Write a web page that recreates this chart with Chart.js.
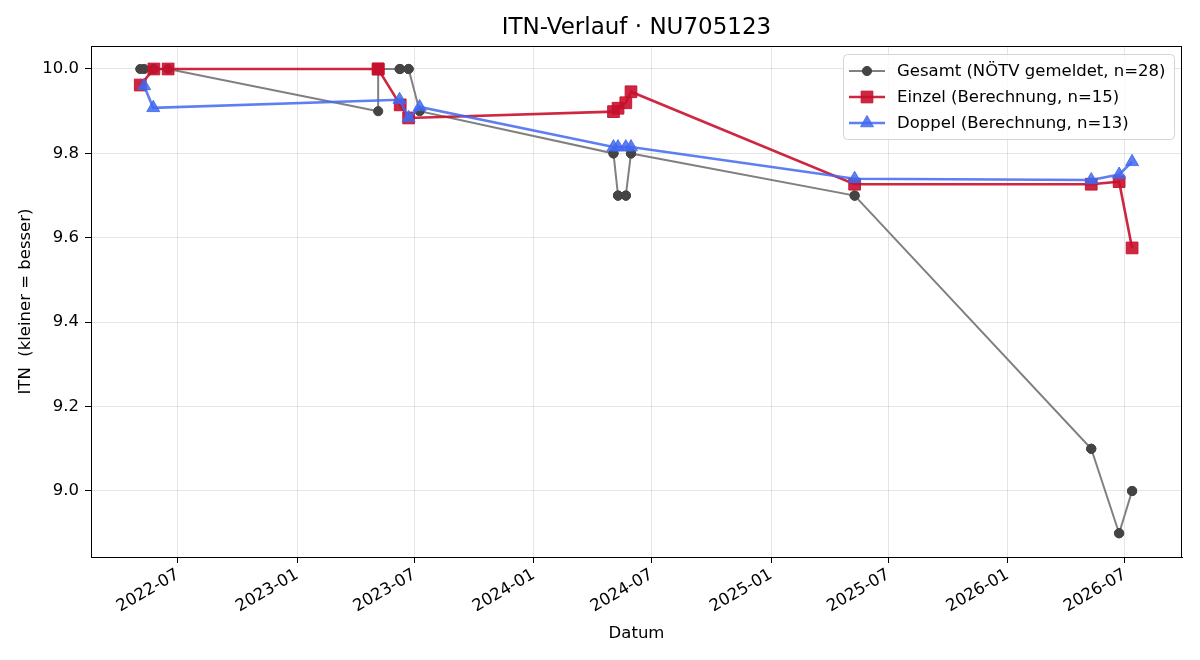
<!DOCTYPE html>
<html>
<head>
<meta charset="utf-8">
<script src="https://cdn.jsdelivr.net/npm/chart.js@4/dist/chart.umd.min.js"></script>
<style>
  html, body { margin: 0; padding: 0; background: #fff; }
</style>
</head>
<body>
<canvas id="myChart" width="1200" height="660"></canvas>
<script>
// Gesamt (NÖTV gemeldet) – 28 Meldungen
const gesamtDates = ['2022-05-04', '2022-05-10', '2022-05-24', '2022-05-25', '2022-06-16',
  '2023-05-06', '2023-05-06', '2023-06-08', '2023-06-09', '2023-06-22', '2023-06-22', '2023-07-09',
  '2024-05-03', '2024-05-03', '2024-05-10', '2024-05-10', '2024-05-22', '2024-05-22', '2024-05-30', '2024-05-30',
  '2025-05-10', '2025-05-10', '2026-05-10', '2026-05-10', '2026-06-22', '2026-06-22', '2026-07-12', '2026-07-12'];
const gesamtValues = [10.0, 10.0, 10.0, 10.0, 10.0,
  9.9, 10.0, 10.0, 10.0, 10.0, 10.0, 9.9,
  9.8, 9.8, 9.7, 9.7, 9.7, 9.7, 9.8, 9.8,
  9.7, 9.7, 9.1, 9.1, 8.9, 8.9, 9.0, 9.0];

// Einzel (Berechnung) – 15
const einzelDates = ['2022-05-04', '2022-05-25', '2022-06-16', '2023-05-06', '2023-05-06', '2023-06-09', '2023-06-22',
  '2024-05-03', '2024-05-10', '2024-05-22', '2024-05-30', '2025-05-10', '2026-05-10', '2026-06-22', '2026-07-12'];
const einzelValues = [9.962, 10.0, 10.0, 10.0, 10.0, 9.915, 9.884,
  9.899, 9.907, 9.92, 9.946, 9.727, 9.727, 9.733, 9.576];

// Doppel (Berechnung) – 13
const doppelDates = ['2022-05-10', '2022-05-24', '2023-06-08', '2023-06-22', '2023-07-09',
  '2024-05-03', '2024-05-10', '2024-05-22', '2024-05-30', '2025-05-10', '2026-05-10', '2026-06-22', '2026-07-12'];
const doppelValues = [9.96, 9.908, 9.927, 9.884, 9.91,
  9.815, 9.815, 9.815, 9.815, 9.74, 9.737, 9.75, 9.78];

// Achsen
const xTickDates = ['2022-07-01', '2023-01-01', '2023-07-01', '2024-01-01', '2024-07-01',
  '2025-01-01', '2025-07-01', '2026-01-01', '2026-07-01'];
const xTickLabels = ['2022-07', '2023-01', '2023-07', '2024-01', '2024-07', '2025-01', '2025-07', '2026-01', '2026-07'];
const yTicks = [9.0, 9.2, 9.4, 9.6, 9.8, 10.0];
const xMin = Date.parse('2022-02-17');
const xMax = Date.parse('2026-09-27');
const yMin = 8.8436;
const yMax = 10.0545;

const GRAY_LINE = 'rgb(128,128,128)';
const GRAY_PT = 'rgb(68,68,68)';
const RED = 'rgba(200,16,46,0.9)';
const BLUE = 'rgba(65,105,240,0.85)';
const font = { family: 'DejaVu Sans', size: 16.5 };
const TITLE = 'ITN-Verlauf · NU705123';

function toPoints(dates, values) {
  return dates.map((d, i) => ({ x: Date.parse(d), y: values[i] }));
}

const series = [
  { label: 'Gesamt (NÖTV gemeldet, n=28)', line: GRAY_LINE, pt: GRAY_PT, style: 'circle', r: 4.6, w: 2 },
  { label: 'Einzel (Berechnung, n=15)', line: RED, pt: RED, style: 'rect', r: 8.3, w: 2.6 },
  { label: 'Doppel (Berechnung, n=13)', line: BLUE, pt: BLUE, style: 'triangle', r: 7.5, w: 2.6 }
];

// Titel, Rahmen + Legende im Stil von matplotlib
const framePlugin = {
  id: 'frame',
  beforeDatasetsDraw(chart) {
    const { ctx, chartArea: a } = chart;
    ctx.save();
    ctx.strokeStyle = '#000';
    ctx.lineWidth = 1;
    ctx.strokeRect(a.left + 0.5, a.top + 0.5, a.right - a.left - 1, a.bottom - a.top);
    ctx.fillStyle = '#000';
    ctx.font = '23px "DejaVu Sans"';
    ctx.textAlign = 'center';
    ctx.textBaseline = 'middle';
    ctx.fillText(TITLE, (a.left + a.right) / 2, 28);
    ctx.restore();
  },
  afterDraw(chart) {
    const { ctx, chartArea: a } = chart;
    const bw = 331, bh = 85;
    const bx = a.right - 8 - bw, by = a.top + 8;
    ctx.save();
    ctx.beginPath();
    ctx.roundRect(bx + 0.5, by + 0.5, bw, bh, 4);
    ctx.fillStyle = 'rgba(255,255,255,0.8)';
    ctx.fill();
    ctx.strokeStyle = '#d4d4d4';
    ctx.lineWidth = 1;
    ctx.stroke();
    ctx.font = font.size + 'px "DejaVu Sans"';
    ctx.textBaseline = 'middle';
    series.forEach((s, i) => {
      const y = by + 17 + i * 26;
      ctx.strokeStyle = s.line;
      ctx.lineWidth = s.w;
      ctx.beginPath();
      ctx.moveTo(bx + 6, y);
      ctx.lineTo(bx + 42, y);
      ctx.stroke();
      ctx.fillStyle = s.pt;
      ctx.strokeStyle = s.pt;
      ctx.lineWidth = 1;
      Chart.helpers.drawPoint(ctx, { pointStyle: s.style, radius: s.r, rotation: 0, borderWidth: 1 }, bx + 24, y);
      ctx.fillStyle = '#000';
      ctx.fillText(s.label, bx + 54, y + 1);
    });
    ctx.restore();
  }
};

function ds(s, data, order) {
  return {
    label: s.label,
    data: data,
    borderColor: s.line,
    borderWidth: s.w,
    backgroundColor: s.pt,
    pointBackgroundColor: s.pt,
    pointBorderColor: s.pt,
    pointBorderWidth: 1,
    pointStyle: s.style,
    pointRadius: s.r,
    pointHoverRadius: s.r,
    tension: 0,
    order: order
  };
}

var ctx = document.getElementById('myChart');
var myChart = new Chart(ctx, {
  type: 'line',
  data: {
    datasets: [
      ds(series[0], toPoints(gesamtDates, gesamtValues), 3),
      ds(series[1], toPoints(einzelDates, einzelValues), 2),
      ds(series[2], toPoints(doppelDates, doppelValues), 1)
    ]
  },
  options: {
    responsive: false,
    animation: false,
    layout: { padding: { top: 46, right: 18, left: 0, bottom: 0 } },
    plugins: {
      legend: { display: false },
      tooltip: { enabled: false },
      title: { display: false }
    },
    scales: {
      x: {
        type: 'linear',
        min: xMin,
        max: xMax,
        afterBuildTicks: (s) => { s.ticks = xTickDates.map((d) => ({ value: Date.parse(d) })); },
        afterFit: (s) => { s.height = 103; },
        ticks: {
          autoSkip: false,
          minRotation: 30,
          maxRotation: 30,
          padding: 2,
          color: '#000',
          font: font,
          callback: (v, i) => xTickLabels[i]
        },
        grid: { color: 'rgba(0,0,0,0.1)', tickColor: '#000', tickLength: 6 },
        border: { color: '#000', width: 1 },
        title: { display: true, text: 'Datum', color: '#000', font: font, padding: { top: 0, bottom: 16 } }
      },
      y: {
        type: 'linear',
        min: yMin,
        max: yMax,
        afterBuildTicks: (s) => { s.ticks = yTicks.map((v) => ({ value: v })); },
        afterFit: (s) => { s.width = 91; },
        ticks: {
          padding: 6,
          color: '#000',
          font: font,
          callback: (v) => v.toFixed(1)
        },
        grid: { color: 'rgba(0,0,0,0.1)', tickColor: '#000', tickLength: 6 },
        border: { color: '#000', width: 1 },
        title: { display: true, text: 'ITN  (kleiner = besser)', color: '#000', font: font, padding: { top: 16, bottom: 0 } }
      }
    }
  },
  plugins: [framePlugin]
});
</script>
</body>
</html>
